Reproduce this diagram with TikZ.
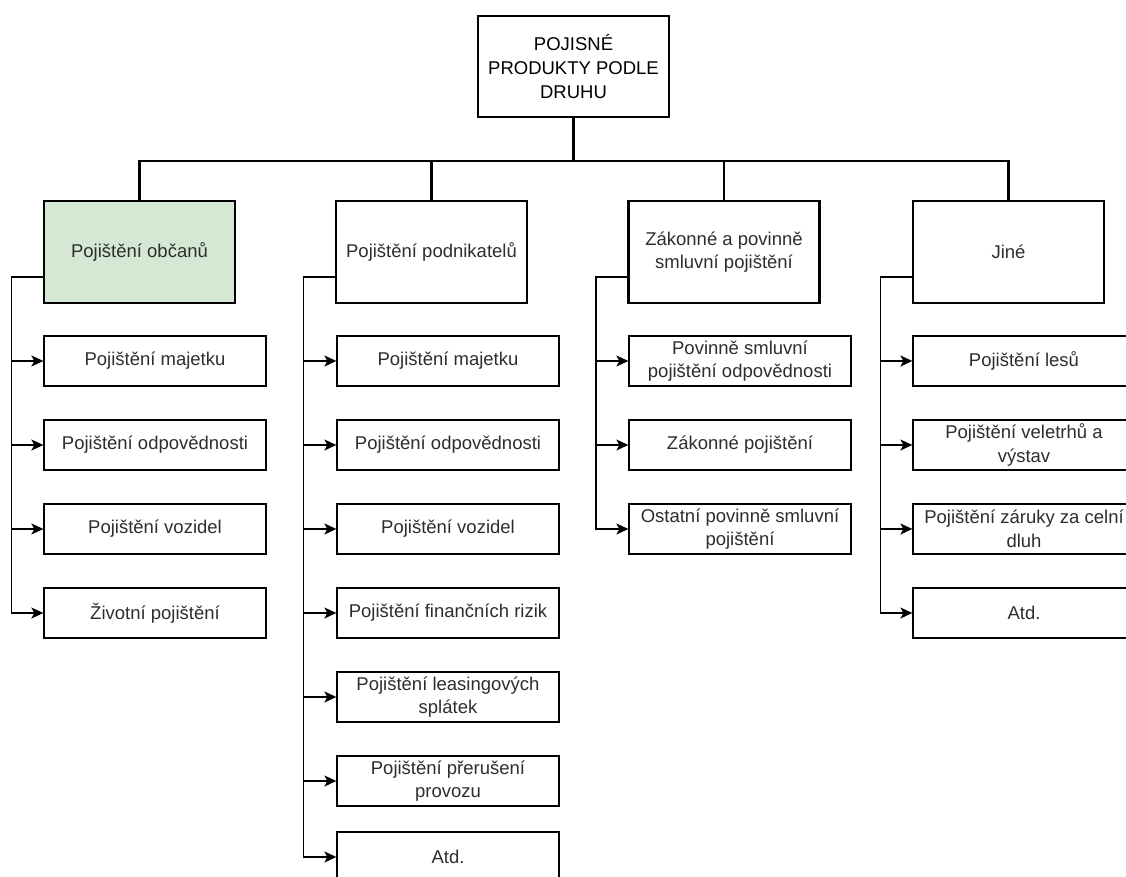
\documentclass[tikz,border=0pt]{standalone}
\usepackage{fontspec}
\setmainfont{Liberation Sans}
\usetikzlibrary{arrows.meta}
\definecolor{greenfill}{RGB}{213,232,212}
\definecolor{txt}{RGB}{45,45,45}
\begin{document}
\begin{tikzpicture}[x=1pt,y=-1pt,
  every node/.style={inner sep=0pt, align=center, font=\fontsize{18.5}{23.5}\selectfont, text=txt},
  topbox/.style={draw, line width=2.8pt, minimum width=191pt, minimum height=102pt},
  childbox/.style={draw, line width=1.3pt, minimum width=222pt, minimum height=50pt},
  bus/.style={line width=2.4pt},
  arr/.style={line width=1.3pt, -{Stealth[length=12pt,width=11pt,inset=3pt]}}
]
\useasboundingbox (0,0) rectangle (1126,877);

% root
\node[topbox, minimum height=101pt, font=\fontsize{18.5}{24}\selectfont, text=black] (root) at (573.5,66.5) {POJISNÉ\\PRODUKTY PODLE\\DRUHU};

% level 1
\node[topbox, fill=greenfill] (p1) at (139.5,252) {Pojištění občanů};
\node[topbox] (p2) at (431.5,252) {Pojištění podnikatelů};
\node[topbox] (p3) at (724,252) {Zákonné a povinně\\smluvní pojištění};
\node[topbox] (p4) at (1008.5,252) {Jiné};

% column 1
\node[childbox] (a1) at (155,361) {Pojištění majetku};
\node[childbox] (a2) at (155,445) {Pojištění odpovědnosti};
\node[childbox] (a3) at (155,529) {Pojištění vozidel};
\node[childbox] (a4) at (155,613) {Životní pojištění};

% column 2
\node[childbox] (b1) at (448,361) {Pojištění majetku};
\node[childbox] (b2) at (448,445) {Pojištění odpovědnosti};
\node[childbox] (b3) at (448,529) {Pojištění vozidel};
\node[childbox] (b4) at (448,613) {Pojištění finančních rizik};
\node[childbox] (b5) at (448,697) {Pojištění leasingových\\splátek};
\node[childbox] (b6) at (448,781) {Pojištění přerušení\\provozu};
\node[childbox] (b7) at (448,857) {Atd.};

% column 3
\node[childbox] (c1) at (740,361) {Povinně smluvní\\pojištění odpovědnosti};
\node[childbox] (c2) at (740,445) {Zákonné pojištění};
\node[childbox] (c3) at (740,529) {Ostatní povinně smluvní\\pojištění};

% column 4
\node[childbox] (d1) at (1024,361) {Pojištění lesů};
\node[childbox] (d2) at (1024,445) {Pojištění veletrhů a\\výstav};
\node[childbox] (d3) at (1024,529) {Pojištění záruky za celní\\dluh};
\node[childbox] (d4) at (1024,613) {Atd.};

% bus
\foreach \p in {p1,p2,p3,p4}
  \draw[bus] (root.south) -- ++(0,42.5) -| (\p.north);

% side connectors
\foreach \c in {a1,a2,a3,a4}
  \draw[arr] ([yshift=-25pt]p1.west) -- ++(-31,0) |- (\c.west);
\foreach \c in {b1,b2,b3,b4,b5,b6,b7}
  \draw[arr] ([yshift=-25pt]p2.west) -- ++(-31,0) |- (\c.west);
\foreach \c in {c1,c2,c3}
  \draw[arr] ([yshift=-25pt]p3.west) -- ++(-31,0) |- (\c.west);
\foreach \c in {d1,d2,d3,d4}
  \draw[arr] ([yshift=-25pt]p4.west) -- ++(-31,0) |- (\c.west);
\end{tikzpicture}
\end{document}
